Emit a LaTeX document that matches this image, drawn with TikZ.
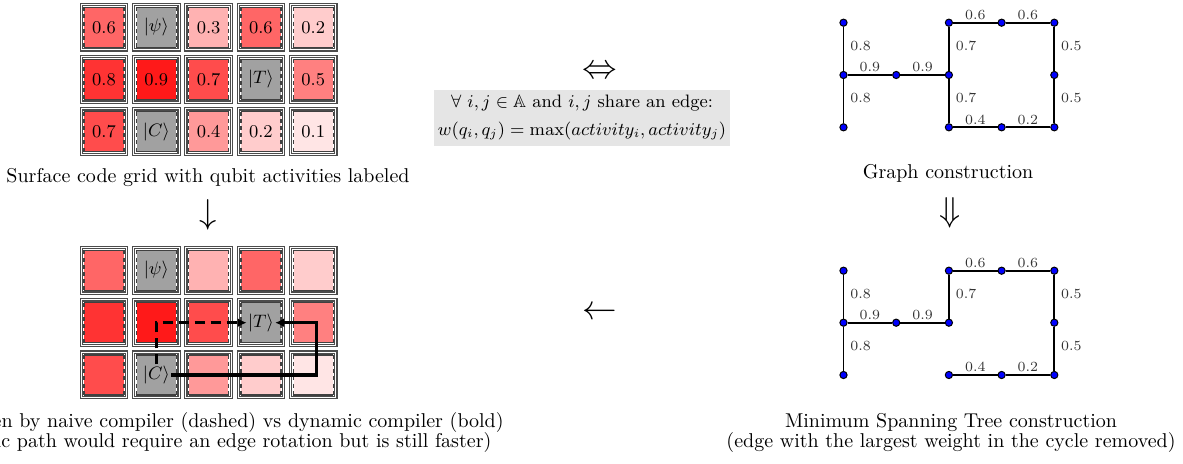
\documentclass[tikz,border=0pt]{standalone}
\usepackage{amssymb}
\usetikzlibrary{arrows.meta}
\newcommand\qcellbox[5]{%
  \node[outerbox] (#1o) at (#2,#3) {};
  \node[innerbox, fill=#4] (#1) at (#2,#3) {};
  \draw[solidedge] (#1.north west) -- (#1.north east) (#1.south west) -- (#1.south east);
  \draw[dashedge] (#1.north west) -- (#1.south west) (#1.north east) -- (#1.south east);
  \node[celltext] (#1t) at (#2,#3) {#5};
}
\begin{document}
\begin{tikzpicture}[x=0.5pt,y=-0.5pt,
  outerbox/.style={draw=black!70, double=white, line width=0.6pt, double distance=0.5pt, minimum size=22.7pt, inner sep=0pt},
  innerbox/.style={minimum size=19.6pt, inner sep=0pt},
  solidedge/.style={draw=black!75, line width=0.7pt},
  dashedge/.style={draw=black!75, line width=0.7pt, dash pattern=on 2pt off 1.6pt},
  celltext/.style={font=\small, inner sep=0.5pt},
  vtx/.style={circle, fill=blue, draw=black, line width=0.5pt, minimum size=3.6pt, inner sep=0pt},
  edge/.style={draw=black, line width=0.9pt},
  vlab/.style={anchor=west, font=\scriptsize, inner sep=1pt, xshift=2pt, yshift=1.5pt, text=black!80},
  hlab/.style={anchor=south, font=\scriptsize, inner sep=1pt, text=black!80},
  naive/.style={line width=1.7pt, dash pattern=on 5pt off 3pt, -{Latex[length=4.5pt,width=4.5pt]}},
  dyn/.style={line width=1.7pt, -{Latex[length=4.5pt,width=4.5pt]}},
  bigsym/.style={font=\LARGE, inner sep=0pt}]
\useasboundingbox (0,0) rectangle (1183,464);

% ---------- top grid ----------
\foreach \c/\r/\v in {0/0/0.6, 2/0/0.3, 3/0/0.6, 4/0/0.2,
                      0/1/0.8, 1/1/0.9, 2/1/0.7, 4/1/0.5,
                      0/2/0.7, 2/2/0.4, 3/2/0.2, 4/2/0.1}{
  \pgfmathtruncatemacro\p{round(\v*100)}
  \pgfmathsetmacro\xx{104+52.3*\c}
  \pgfmathsetmacro\yy{27.3+52.2*\r}
  \qcellbox{t\c\r}{\xx}{\yy}{red!\p}{\v}
}
\qcellbox{t10}{156.3}{27.3}{black!37}{$|\psi\rangle$}
\qcellbox{t31}{260.9}{79.5}{black!37}{$|T\rangle$}
\qcellbox{t12}{156.3}{131.7}{black!37}{$|C\rangle$}

% ---------- bottom grid ----------
\foreach \c/\r/\v in {0/0/0.6, 2/0/0.3, 3/0/0.6, 4/0/0.2,
                      0/1/0.8, 1/1/0.9, 2/1/0.7, 4/1/0.5,
                      0/2/0.7, 2/2/0.4, 3/2/0.2, 4/2/0.1}{
  \pgfmathtruncatemacro\p{round(\v*100)}
  \pgfmathsetmacro\xx{104+52.3*\c}
  \pgfmathsetmacro\yy{270.5+52.2*\r}
  \qcellbox{b\c\r}{\xx}{\yy}{red!\p}{}
}
\qcellbox{b10}{156.3}{270.5}{black!37}{$|\psi\rangle$}
\qcellbox{b31}{260.9}{322.7}{black!37}{$|T\rangle$}
\qcellbox{b12}{156.3}{374.9}{black!37}{$|C\rangle$}

\coordinate (rt) at (316.7,0);
\draw[naive] (b12t.north) |- (b31t.west);
\draw[dyn] (b12t.east) -| (rt |- b31t.east) -- (b31t.east);

% ---------- captions and symbols ----------
\node (cap1) at (208,178) {Surface code grid with qubit activities labeled};
\node[bigsym] (dn) at (208,215) {$\downarrow$};
\node[align=center] (cap4) at (210,433) {Path taken by naive compiler (dashed) vs dynamic compiler (bold)\\[-2pt](dynamic path would require an edge rotation but is still faster)};

\node[bigsym] (eq) at (600,72) {$\Leftrightarrow$};
\node[fill=black!10, minimum width=144pt, minimum height=28pt, align=center, inner sep=2pt, font=\small] (rule) at (582,118)
  {$\forall\ i,j \in \mathbb{A}$ and $i,j$ share an edge:\\[3pt] $w(q_i,q_j)=\max(activity_i, activity_j)$};
\node[bigsym] (lf) at (600,313) {$\leftarrow$};

\node (cap2) at (948,173) {Graph construction};
\node[bigsym] (dd) at (950,213) {$\Downarrow$};
\node[align=center] (cap3) at (951,433) {Minimum Spanning Tree construction\\[-2pt](edge with the largest weight in the cycle removed)};

% ---------- top graph ----------
\node[vtx] (u00) at (843.5,22.7) {};
\node[vtx] (u01) at (843.5,75) {};
\node[vtx] (u02) at (843.5,127.3) {};
\node[vtx] (u11) at (896.2,75) {};
\node[vtx] (u20) at (948.9,22.7) {};
\node[vtx] (u21) at (948.9,75) {};
\node[vtx] (u22) at (948.9,127.3) {};
\node[vtx] (u30) at (1001.6,22.7) {};
\node[vtx] (u32) at (1001.6,127.3) {};
\node[vtx] (u40) at (1054.3,22.7) {};
\node[vtx] (u41) at (1054.3,75) {};
\node[vtx] (u42) at (1054.3,127.3) {};
\draw[edge] (u00) -- node[vlab] {0.8} (u01);
\draw[edge] (u01) -- node[vlab] {0.8} (u02);
\draw[edge] (u01) -- node[hlab] {0.9} (u11);
\draw[edge] (u11) -- node[hlab] {0.9} (u21);
\draw[edge] (u20) -- node[vlab] {0.7} (u21);
\draw[edge] (u21) -- node[vlab] {0.7} (u22);
\draw[edge] (u20) -- node[hlab] {0.6} (u30);
\draw[edge] (u30) -- node[hlab] {0.6} (u40);
\draw[edge] (u40) -- node[vlab] {0.5} (u41);
\draw[edge] (u41) -- node[vlab] {0.5} (u42);
\draw[edge] (u22) -- node[hlab] {0.4} (u32);
\draw[edge] (u32) -- node[hlab] {0.2} (u42);

% ---------- bottom graph (MST) ----------
\node[vtx] (l00) at (843.5,270.7) {};
\node[vtx] (l01) at (843.5,322.7) {};
\node[vtx] (l02) at (843.5,375) {};
\node[vtx] (l11) at (896.2,322.7) {};
\node[vtx] (l20) at (948.9,270.7) {};
\node[vtx] (l21) at (948.9,322.7) {};
\node[vtx] (l22) at (948.9,375) {};
\node[vtx] (l30) at (1001.6,270.7) {};
\node[vtx] (l32) at (1001.6,375) {};
\node[vtx] (l40) at (1054.3,270.7) {};
\node[vtx] (l41) at (1054.3,322.7) {};
\node[vtx] (l42) at (1054.3,375) {};
\draw[edge] (l00) -- node[vlab] {0.8} (l01);
\draw[edge] (l01) -- node[vlab] {0.8} (l02);
\draw[edge] (l01) -- node[hlab] {0.9} (l11);
\draw[edge] (l11) -- node[hlab] {0.9} (l21);
\draw[edge] (l20) -- node[vlab] {0.7} (l21);
\draw[edge] (l20) -- node[hlab] {0.6} (l30);
\draw[edge] (l30) -- node[hlab] {0.6} (l40);
\draw[edge] (l40) -- node[vlab] {0.5} (l41);
\draw[edge] (l41) -- node[vlab] {0.5} (l42);
\draw[edge] (l22) -- node[hlab] {0.4} (l32);
\draw[edge] (l32) -- node[hlab] {0.2} (l42);
\end{tikzpicture}
\end{document}
